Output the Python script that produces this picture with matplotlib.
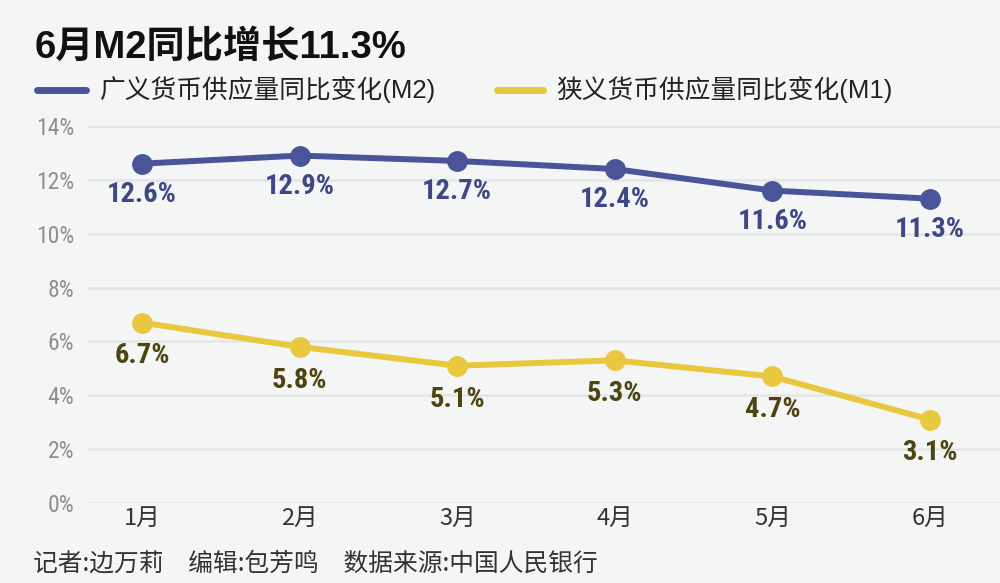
import matplotlib
matplotlib.use("Agg")
import matplotlib.pyplot as plt
from matplotlib.lines import Line2D

plt.rcParams['font.family'] = ['Noto Sans CJK SC', 'DejaVu Sans']

months = ['1月', '2月', '3月', '4月', '5月', '6月']
m2 = [12.6, 12.9, 12.7, 12.4, 11.6, 11.3]
m1 = [6.7, 5.8, 5.1, 5.3, 4.7, 3.1]
yticks = [0, 2, 4, 6, 8, 10, 12, 14]
title = '6月M2同比增长11.3%'
m2_name = '广义货币供应量同比变化(M2)'
m1_name = '狭义货币供应量同比变化(M1)'
footer = '记者:边万莉\u3000编辑:包芳鸣\u3000数据来源:中国人民银行'

bg = '#f3f6f4'
blue = '#4a5599'
yellow = '#e9c73e'
blue_lbl = '#3f4886'
yel_lbl = '#4f4410'
num_font = ['Roboto Condensed', 'Roboto', 'DejaVu Sans']
latin_cjk = ['Liberation Sans', 'Noto Sans CJK SC', 'DejaVu Sans']

fig = plt.figure(figsize=(10, 5.83), dpi=100, facecolor=bg)
ax = fig.add_axes([0.088, 0.137, 0.912, 0.647], facecolor=bg)

x = list(range(len(months)))
ax.plot(x, m2, color=blue, lw=4.3, marker='o', ms=14, clip_on=False, zorder=3)
ax.plot(x, m1, color=yellow, lw=4.3, marker='o', ms=14, clip_on=False, zorder=3)

for xi, v in zip(x, m2):
    ax.annotate(f'{v}%', (xi, v), xytext=(0, -22), textcoords='offset points',
                ha='center', va='center', fontsize=20.5, fontweight='bold', color=blue_lbl,
                family=num_font)
for xi, v in zip(x, m1):
    ax.annotate(f'{v}%', (xi, v), xytext=(0, -24), textcoords='offset points',
                ha='center', va='center', fontsize=20.5, fontweight='bold', color=yel_lbl,
                family=num_font)

ax.set_ylim(0, 14)
ax.set_xlim(-0.343, 5.444)
ax.set_yticks(yticks)
ax.set_yticklabels([f'{t}%' for t in yticks], fontsize=17, color='#8f8f8f', family=num_font)
ax.set_xticks(x)
ax.set_xticklabels(months, fontsize=17, color='#333333', fontweight='light')
ax.tick_params(length=0)
ax.tick_params(axis='y', pad=10)
ax.tick_params(axis='x', pad=3)
ax.grid(axis='y', color='#e3e6e4', lw=1.8)
ax.set_axisbelow(True)
for s in ax.spines.values():
    s.set_visible(False)

fig.text(0.035, 0.918, title, fontsize=27.5, fontweight='bold', color='#111111',
         va='center', ha='left', family=latin_cjk)

fig.add_artist(Line2D([0.037, 0.086], [0.846, 0.846], color=blue, lw=5, solid_capstyle='round'))
fig.text(0.100, 0.846, m2_name, fontsize=18.5, color='#222222', va='center', ha='left', family=latin_cjk)
fig.add_artist(Line2D([0.497, 0.543], [0.846, 0.846], color=yellow, lw=5, solid_capstyle='round'))
fig.text(0.556, 0.846, m1_name, fontsize=18.5, color='#222222', va='center', ha='left', family=latin_cjk)

fig.text(0.033, 0.034, footer, fontsize=17.8, color='#333333', va='center', ha='left', fontweight='light')

fig.savefig('out.png', dpi=100, facecolor=bg)
